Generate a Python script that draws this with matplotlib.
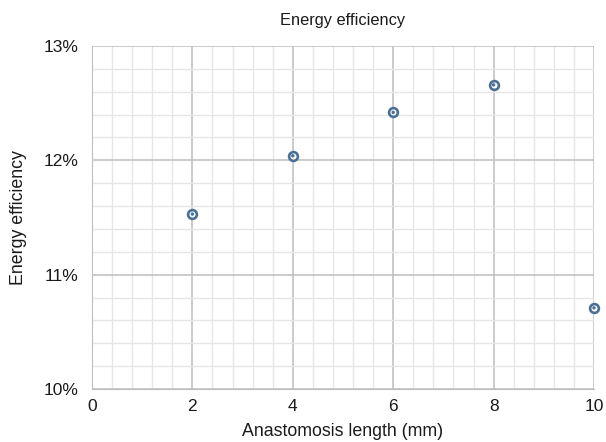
import numpy as np
import matplotlib
matplotlib.use("Agg")
import matplotlib.pyplot as plt
from matplotlib.ticker import MultipleLocator, FuncFormatter

plt.rcParams['font.family'] = ['Liberation Sans', 'DejaVu Sans']

lengths = [2, 4, 6, 8, 10]
efficiency = [11.53, 12.04, 12.42, 12.66, 10.71]

fig = plt.figure(figsize=(6.06, 4.42), dpi=100)
ax = fig.add_axes([0.1518, 0.1199, 0.8284, 0.776])

ax.set_xlim(0, 10)
ax.set_ylim(10, 13)
ax.xaxis.set_major_locator(MultipleLocator(2))
ax.xaxis.set_minor_locator(MultipleLocator(0.4))
ax.yaxis.set_major_locator(MultipleLocator(1))
ax.yaxis.set_minor_locator(MultipleLocator(0.2))
ax.yaxis.set_major_formatter(FuncFormatter(lambda v, p: f"{v:.0f}%"))

ax.grid(which='minor', color='#e6e6e6', lw=1.0)
ax.grid(which='major', color='#bdbdbd', lw=1.1)
ax.set_axisbelow(True)
for s in ax.spines.values():
    s.set_visible(False)
ax.spines['left'].set_visible(True)
ax.spines['bottom'].set_visible(True)
ax.spines['left'].set_color('#bdbdbd')
ax.spines['bottom'].set_color('#bdbdbd')
ax.tick_params(which='both', length=0, labelsize=12.5, colors='#1a1a1a')
ax.tick_params(axis='y', pad=10)
ax.tick_params(axis='x', pad=7)

ax.scatter(lengths, efficiency, s=40, facecolor='white', edgecolor='#4a6f96', lw=1.9, zorder=3, clip_on=False)
ax.scatter(lengths, efficiency, s=6, facecolor='#4a6f96', edgecolor='none', zorder=4, clip_on=False)

ax.set_title("Energy efficiency", fontsize=11.8, color='#1a1a1a', pad=15)
ax.set_xlabel("Anastomosis length (mm)", fontsize=12.8, color='#1a1a1a', labelpad=7)
ax.set_ylabel("Energy efficiency", fontsize=12.8, color='#1a1a1a', labelpad=12)

fig.savefig("out.png", dpi=100)
